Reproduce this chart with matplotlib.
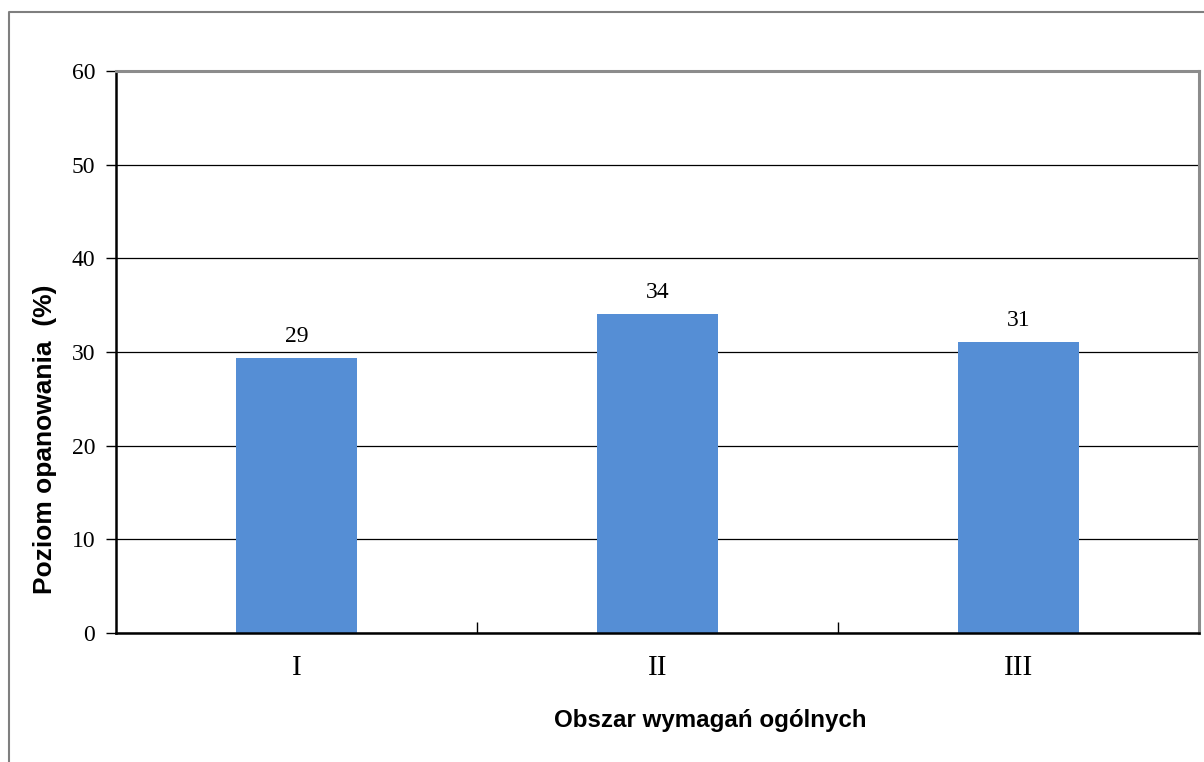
import numpy as np
import matplotlib.pyplot as plt
from matplotlib.lines import Line2D

# data
categories = ['I', 'II', 'III']
values = [29.4, 34.1, 31.1]
labels = ['29', '34', '31']
y_ticks = [0, 10, 20, 30, 40, 50, 60]

fig = plt.figure(figsize=(12.04, 7.62), dpi=100)
W, H = 1204, 762

# plot area in pixels: left 116, top 71, right 1199, bottom 633
ax = fig.add_axes([116 / W, 1 - 633 / H, (1199 - 116) / W, (633 - 71) / H])

x = np.arange(len(categories))
ax.bar(x, values, width=0.333, color='#558ED5', zorder=2)
for xi, v, lab in zip(x, values, labels):
    ax.text(xi, v + 1.1, lab, ha='center', va='bottom', fontsize=17,
            family='Liberation Serif')

ax.set_xlim(-0.5, len(categories) - 0.5)
ax.set_ylim(0, 60)
ax.set_yticks(y_ticks)
ax.set_yticklabels([str(t) for t in y_ticks], family='Liberation Serif', fontsize=17)
ax.tick_params(axis='y', direction='out', length=7, width=1, pad=8, colors='black')

ax.set_xticks(x)
ax.set_xticklabels(categories, family='Liberation Serif', fontsize=21)
ax.tick_params(axis='x', which='major', length=0, pad=16)
ax.set_xticks(np.arange(0.5, len(categories) - 1, 1.0), minor=True)
ax.tick_params(axis='x', which='minor', direction='in', length=8, width=1)

ax.set_axisbelow(True)
ax.yaxis.grid(True, color='black', linewidth=0.9)

for side in ['left', 'bottom']:
    ax.spines[side].set_color('black')
    ax.spines[side].set_linewidth(1.8)
for side in ['top', 'right']:
    ax.spines[side].set_color('#8c8c8c')
    ax.spines[side].set_linewidth(2.2)

# axis titles
fig.text(45 / W, 1 - 439 / H, 'Poziom opanowania  (%)', rotation=90, ha='center',
         va='center', fontsize=19, fontweight='bold', family='Liberation Sans')
fig.text(710 / W, 1 - 720 / H, 'Obszar wymagań ogólnych', ha='center', va='center',
         fontsize=17.4, fontweight='bold', family='Liberation Sans')

# outer chart frame (left and top edges visible)
fig.add_artist(Line2D([9 / W, 9 / W, 1.0], [0.0, 1 - 12 / H, 1 - 12 / H],
                      transform=fig.transFigure, color='#7f7f7f', linewidth=1.5))

fig.savefig('out.png', dpi=100)
